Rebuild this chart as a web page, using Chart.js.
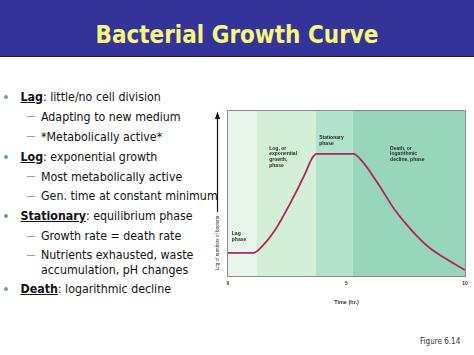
<!DOCTYPE html>
<html>
<head>
<meta charset="utf-8">
<script src="https://cdn.jsdelivr.net/npm/chart.js@4/dist/chart.umd.min.js"></script>
<style>
  html, body { margin: 0; padding: 0; background: #fff; }
  #slide { position: relative; width: 474px; height: 355px; overflow: hidden; background: #fff; }
  #band { position: absolute; left: 0; top: 0; width: 474px; height: 56px; background: #333399; border-bottom: 1.5px solid #1c1c40; }
  #title { position: absolute; left: 0; top: 20px; width: 474px; text-align: center; font: bold 25px "DejaVu Sans", Verdana, sans-serif; color: #f7f77b; line-height: 30px; white-space: nowrap; }
  #title span { display: inline-block; transform-origin: center; }
  .ln { position: absolute; white-space: nowrap; font: 12.3px "DejaVu Sans Condensed", "DejaVu Sans", sans-serif; color: #111; line-height: 16px; }
  .ln b { font-weight: bold; text-decoration: underline; }
  .dot { position: absolute; width: 4px; height: 4px; border-radius: 50%; background: #6b97c6; }
  .dash { position: absolute; height: 1.2px; width: 8px; background: #8da3c4; }
  #fig { position: absolute; left: 420px; top: 337px; font: 8px "DejaVu Sans Condensed", sans-serif; color: #333; }
  #chartBox { position: absolute; left: 205px; top: 100px; width: 269px; height: 206px; }
</style>
</head>
<body>
<div id="slide">
  <div id="band"></div>
  <div id="title"><span id="titleText">Bacterial Growth Curve</span></div>
  <div id="bullets"></div>
  <div id="fig">Figure 6.14</div>
  <div id="chartBox"><canvas id="c"></canvas></div>
</div>
<script>
// ---- data ----
const timeHours    = [0, 1.07, 1.42, 1.98, 2.69, 3.25, 3.53, 3.74, 5.29, 5.64, 6.34, 7.05, 7.75, 8.45, 9.16, 10];
const logBacteria  = [1.4, 1.4, 1.77, 2.77, 4.58, 6.19, 7.09, 7.4, 7.4, 6.99, 5.58, 3.98, 2.77, 1.77, 1.07, 0.36];
const phaseBounds  = [0, 1.21, 3.7, 5.26, 10];
const phaseLabels  = [["Lag", "phase"], ["Log, or", "exponential", "growth,", "phase"], ["Stationary", "phase"], ["Death, or", "logarithmic", "decline, phase"]];
const xTickValues  = [0, 5, 10];
const xAxisTitle   = "Time (hr.)";
const yAxisTitle   = "Log of numbers of bacteria";

// ---- slide text ----
const bulletLines = [
  { lvl: 0, head: "Lag", text: ": little/no cell division" },
  { lvl: 1, text: "Adapting to new medium" },
  { lvl: 1, text: "*Metabolically active*" },
  { lvl: 0, head: "Log", text: ": exponential growth" },
  { lvl: 1, text: "Most metabolically active" },
  { lvl: 1, text: "Gen. time at constant minimum" },
  { lvl: 0, head: "Stationary", text: ": equilibrium phase" },
  { lvl: 1, text: "Growth rate = death rate" },
  { lvl: 1, text: "Nutrients exhausted, waste" },
  { lvl: 2, text: "accumulation, pH changes" },
  { lvl: 0, head: "Death", text: ": logarithmic decline" }
];
const lineCenters = [96.7, 116.7, 136.7, 156.7, 176.7, 196.3, 216.3, 236.3, 255.3, 269.5, 289.3];
const bl = document.getElementById('bullets');
bulletLines.forEach((l, i) => {
  const cy = lineCenters[i];
  const d = document.createElement('div');
  d.className = 'ln';
  d.style.top = (cy - 8) + 'px';
  d.style.left = (l.lvl === 0 ? 20.5 : 41) + 'px';
  if (l.head) { const b = document.createElement('b'); b.textContent = l.head; d.appendChild(b); }
  d.appendChild(document.createTextNode(l.text));
  bl.appendChild(d);
  if (l.lvl === 0) {
    const dot = document.createElement('div'); dot.className = 'dot';
    dot.style.left = '3.5px'; dot.style.top = (cy - 2) + 'px'; bl.appendChild(dot);
  } else if (l.lvl === 1) {
    const da = document.createElement('div'); da.className = 'dash';
    da.style.left = '27px'; da.style.top = (cy - 0.5) + 'px'; bl.appendChild(da);
  }
});
// fit title width
const tt = document.getElementById('titleText');
tt.style.transform = 'scaleX(' + (283 / tt.getBoundingClientRect().width) + ')';

// ---- chart ----
const phaseColors = ['#e7f5ea', '#d4efd8', '#b0e2cc', '#97d6bb'];
const labelAnchors = [[0.16, 2.57], [1.74, 7.73], [3.85, 8.39], [6.84, 7.75]];

const decor = {
  id: 'decor',
  beforeDatasetsDraw(chart) {
    const { ctx, chartArea: a, scales: { x, y } } = chart;
    ctx.save();
    for (let i = 0; i < phaseBounds.length - 1; i++) {
      const x0 = x.getPixelForValue(phaseBounds[i]);
      const x1 = x.getPixelForValue(phaseBounds[i + 1]);
      ctx.fillStyle = phaseColors[i];
      ctx.fillRect(x0, a.top, x1 - x0, a.bottom - a.top);
    }
    // phase labels
    ctx.fillStyle = '#1e2a22';
    ctx.font = 'bold 5px "Liberation Sans", Arial, sans-serif';
    ctx.textBaseline = 'middle';
    ctx.textAlign = 'left';
    phaseLabels.forEach((lines, i) => {
      const px = x.getPixelForValue(labelAnchors[i][0]);
      const py = y.getPixelForValue(labelAnchors[i][1]);
      lines.forEach((t, j) => ctx.fillText(t, px, py + j * 5.6));
    });
    ctx.restore();
  },
  afterDatasetsDraw(chart) {
    const { ctx, chartArea: a } = chart;
    ctx.save();
    ctx.strokeStyle = '#8c8c8c';
    ctx.lineWidth = 1;
    ctx.strokeRect(a.left - 0.5, a.top - 0.5, a.right - a.left + 1, a.bottom - a.top + 1);
    // y-axis arrow
    const ax = a.left - 10.5;
    ctx.strokeStyle = '#111';
    ctx.lineWidth = 1.2;
    ctx.beginPath(); ctx.moveTo(ax, a.top + 6); ctx.lineTo(ax, a.top + 101); ctx.stroke();
    ctx.fillStyle = '#111';
    ctx.beginPath(); ctx.moveTo(ax, a.top + 0.5); ctx.lineTo(ax - 2.6, a.top + 8); ctx.lineTo(ax + 2.6, a.top + 8); ctx.closePath(); ctx.fill();
    // y-axis title (reads upward, lower part of axis)
    ctx.translate(ax, a.top + 132);
    ctx.rotate(-Math.PI / 2);
    ctx.font = '4.6px "Liberation Sans", Arial, sans-serif';
    ctx.fillStyle = '#333';
    ctx.textAlign = 'center';
    ctx.textBaseline = 'middle';
    ctx.fillText(yAxisTitle, 0, 0);
    ctx.restore();
  }
};

new Chart(document.getElementById('c'), {
  type: 'line',
  data: {
    datasets: [{
      data: timeHours.map((t, i) => ({ x: t, y: logBacteria[i] })),
      borderColor: '#b3235c',
      borderWidth: 1.8,
      pointRadius: 0,
      cubicInterpolationMode: 'monotone',
      fill: false
    }]
  },
  options: {
    responsive: true,
    maintainAspectRatio: false,
    animation: false,
    events: [],
    layout: { padding: { left: 23, right: 9, top: 11, bottom: 0 } },
    plugins: { legend: { display: false }, tooltip: { enabled: false } },
    scales: {
      x: {
        type: 'linear', min: 0, max: 10,
        afterBuildTicks: (s) => { s.ticks = xTickValues.map(v => ({ value: v })); },
        afterFit: (s) => { s.height = 30; },
        grid: { display: false, drawTicks: false },
        border: { display: false },
        ticks: { font: { size: 5, weight: 'bold', family: 'Liberation Sans' }, color: '#333', padding: 5, maxRotation: 0 },
        title: { display: true, text: xAxisTitle, font: { size: 5.5, weight: 'bold', family: 'Liberation Sans' }, color: '#333', padding: { top: 5, bottom: 0 } }
      },
      y: { type: 'linear', min: 0, max: 10, display: false }
    }
  },
  plugins: [decor]
});
</script>
</body>
</html>
